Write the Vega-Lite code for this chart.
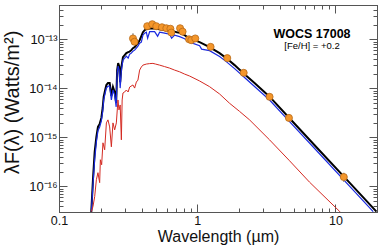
{
  "$schema": "https://vega.github.io/schema/vega-lite/v6.json",
  "width": 318,
  "height": 207,
  "autosize": {"type": "none"},
  "padding": {"left": 59, "top": 5, "right": 4, "bottom": 35},
  "background": "white",
  "config": {
    "view": {"stroke": "#555", "strokeWidth": 1},
    "axis": {"grid": false, "domainColor": "#555", "tickColor": "#555", "labelFont": "Liberation Sans", "titleFont": "Liberation Sans", "labelColor": "#111", "titleColor": "#111", "titleFontWeight": "normal"}
  },
  "datasets": {
    "spectra": [
      {"s":"k","wl":0.171,"f":2.8e-17},{"s":"k","wl":0.1761,"f":1.37e-16},{"s":"k","wl":0.1812,"f":5.07e-16},{"s":"k","wl":0.1864,"f":1.02e-15},{"s":"k","wl":0.1914,"f":1.63e-15},{"s":"k","wl":0.1969,"f":1.88e-15},{"s":"k","wl":0.2025,"f":2.49e-15},{"s":"k","wl":0.207,"f":3.97e-15},{"s":"k","wl":0.2105,"f":6.65e-15},{"s":"k","wl":0.2158,"f":9.23e-15},{"s":"k","wl":0.2202,"f":1.17e-14},{"s":"k","wl":0.2261,"f":1.28e-14},{"s":"k","wl":0.2326,"f":1.28e-14},{"s":"k","wl":0.2393,"f":6.97e-15},{"s":"k","wl":0.2458,"f":1.06e-14},{"s":"k","wl":0.2528,"f":8.41e-15},{"s":"k","wl":0.2592,"f":5.02e-15},{"s":"k","wl":0.2635,"f":2.35e-14},{"s":"k","wl":0.268,"f":3.27e-14},{"s":"k","wl":0.2725,"f":2.84e-14},{"s":"k","wl":0.2771,"f":1.34e-14},{"s":"k","wl":0.2827,"f":2.71e-14},{"s":"k","wl":0.2903,"f":4.33e-14},{"s":"k","wl":0.2986,"f":4.75e-14},{"s":"k","wl":0.3071,"f":5.21e-14},{"s":"k","wl":0.3165,"f":5.47e-14},{"s":"k","wl":0.3245,"f":5.6e-14},{"s":"k","wl":0.3338,"f":6.0e-14},{"s":"k","wl":0.3428,"f":6.59e-14},{"s":"k","wl":0.3526,"f":6.91e-14},{"s":"k","wl":0.3628,"f":7.58e-14},{"s":"k","wl":0.3725,"f":8.32e-14},{"s":"k","wl":0.3832,"f":9.58e-14},{"s":"k","wl":0.3942,"f":1.156e-13},{"s":"k","wl":0.4049,"f":1.394e-13},{"s":"k","wl":0.4165,"f":1.531e-13},{"s":"k","wl":0.4285,"f":1.603e-13},{"s":"k","wl":0.4526,"f":1.656e-13},{"s":"k","wl":0.492,"f":1.656e-13},{"s":"k","wl":0.5346,"f":1.603e-13},{"s":"k","wl":0.581,"f":1.545e-13},{"s":"k","wl":0.6317,"f":1.48e-13},{"s":"k","wl":0.6865,"f":1.426e-13},{"s":"k","wl":0.7459,"f":1.349e-13},{"s":"k","wl":0.8108,"f":1.211e-13},{"s":"k","wl":0.8812,"f":1.028e-13},{"s":"k","wl":1.041,"f":8.73e-14},{"s":"k","wl":1.229,"f":6.91e-14},{"s":"k","wl":1.452,"f":5.21e-14},{"s":"k","wl":1.623,"f":4.13e-14},{"s":"k","wl":1.864,"f":2.97e-14},{"s":"k","wl":2.14,"f":2.07e-14},{"s":"k","wl":2.6,"f":1.28e-14},{"s":"k","wl":3.339,"f":6.75e-15},{"s":"k","wl":4.657,"f":2.45e-15},{"s":"k","wl":7.674,"f":5.39e-16},{"s":"k","wl":12.65,"f":1.19e-16},{"s":"k","wl":19.83,"f":3.06e-17},
      {"s":"b","wl":0.1715,"f":3.06e-17},{"s":"b","wl":0.1761,"f":1.08e-16},{"s":"b","wl":0.1812,"f":3.49e-16},{"s":"b","wl":0.1864,"f":8.09e-16},{"s":"b","wl":0.1914,"f":1.36e-15},{"s":"b","wl":0.1969,"f":1.63e-15},{"s":"b","wl":0.2025,"f":2.16e-15},{"s":"b","wl":0.207,"f":3.3e-15},{"s":"b","wl":0.2105,"f":5.78e-15},{"s":"b","wl":0.2158,"f":8.02e-15},{"s":"b","wl":0.2202,"f":1.01e-14},{"s":"b","wl":0.2261,"f":1.11e-14},{"s":"b","wl":0.2326,"f":1.11e-14},{"s":"b","wl":0.2393,"f":5.78e-15},{"s":"b","wl":0.2458,"f":9.23e-15},{"s":"b","wl":0.2528,"f":7.31e-15},{"s":"b","wl":0.2592,"f":4.17e-15},{"s":"b","wl":0.2635,"f":2.05e-14},{"s":"b","wl":0.268,"f":2.84e-14},{"s":"b","wl":0.2725,"f":2.35e-14},{"s":"b","wl":0.2771,"f":1.01e-14},{"s":"b","wl":0.2827,"f":2.35e-14},{"s":"b","wl":0.2903,"f":3.76e-14},{"s":"b","wl":0.2986,"f":4.13e-14},{"s":"b","wl":0.3071,"f":4.53e-14},{"s":"b","wl":0.3165,"f":4.13e-14},{"s":"b","wl":0.3245,"f":4.98e-14},{"s":"b","wl":0.3338,"f":5.21e-14},{"s":"b","wl":0.3428,"f":5.73e-14},{"s":"b","wl":0.3526,"f":6.0e-14},{"s":"b","wl":0.3628,"f":6.59e-14},{"s":"b","wl":0.3725,"f":7.24e-14},{"s":"b","wl":0.3832,"f":8.32e-14},{"s":"b","wl":0.3942,"f":8.73e-14},{"s":"b","wl":0.4049,"f":1.211e-13},{"s":"b","wl":0.4165,"f":1.33e-13},{"s":"b","wl":0.4285,"f":1.394e-13},{"s":"b","wl":0.4379,"f":1.052e-13},{"s":"b","wl":0.4526,"f":1.426e-13},{"s":"b","wl":0.492,"f":1.426e-13},{"s":"b","wl":0.5172,"f":1.156e-13},{"s":"b","wl":0.5346,"f":1.394e-13},{"s":"b","wl":0.581,"f":1.33e-13},{"s":"b","wl":0.6317,"f":1.269e-13},{"s":"b","wl":0.6531,"f":1.052e-13},{"s":"b","wl":0.6865,"f":1.211e-13},{"s":"b","wl":0.7459,"f":1.129e-13},{"s":"b","wl":0.8108,"f":1.028e-13},{"s":"b","wl":0.8812,"f":8.73e-14},{"s":"b","wl":1.041,"f":7.41e-14},{"s":"b","wl":1.076,"f":6.29e-14},{"s":"b","wl":1.229,"f":5.86e-14},{"s":"b","wl":1.452,"f":4.43e-14},{"s":"b","wl":1.623,"f":3.5e-14},{"s":"b","wl":1.864,"f":2.52e-14},{"s":"b","wl":2.14,"f":1.78e-14},{"s":"b","wl":2.6,"f":1.09e-14},{"s":"b","wl":3.339,"f":5.78e-15},{"s":"b","wl":4.657,"f":2.09e-15},{"s":"b","wl":7.674,"f":4.62e-16},{"s":"b","wl":12.65,"f":1.01e-16},{"s":"b","wl":18.77,"f":3.06e-17},
      {"s":"r","wl":0.1715,"f":3.06e-17},{"s":"r","wl":0.1761,"f":3.87e-17},{"s":"r","wl":0.1812,"f":6.17e-17},{"s":"r","wl":0.1864,"f":1.37e-16},{"s":"r","wl":0.1914,"f":1.9e-16},{"s":"r","wl":0.1969,"f":1.19e-16},{"s":"r","wl":0.1992,"f":3.49e-16},{"s":"r","wl":0.2035,"f":2.76e-16},{"s":"r","wl":0.208,"f":7.73e-16},{"s":"r","wl":0.214,"f":5.57e-16},{"s":"r","wl":0.2202,"f":1.97e-15},{"s":"r","wl":0.2261,"f":2.27e-15},{"s":"r","wl":0.2326,"f":1.63e-15},{"s":"r","wl":0.2393,"f":6.41e-16},{"s":"r","wl":0.2458,"f":1.97e-15},{"s":"r","wl":0.2528,"f":1.42e-15},{"s":"r","wl":0.26,"f":1.97e-15},{"s":"r","wl":0.2671,"f":5.78e-15},{"s":"r","wl":0.2716,"f":3.62e-15},{"s":"r","wl":0.2771,"f":4.57e-15},{"s":"r","wl":0.2827,"f":8.89e-16},{"s":"r","wl":0.2864,"f":5.78e-15},{"s":"r","wl":0.2903,"f":8.02e-15},{"s":"r","wl":0.2986,"f":8.41e-15},{"s":"r","wl":0.3071,"f":9.23e-15},{"s":"r","wl":0.3165,"f":8.41e-15},{"s":"r","wl":0.3245,"f":1.06e-14},{"s":"r","wl":0.3428,"f":1.17e-14},{"s":"r","wl":0.3526,"f":1.01e-14},{"s":"r","wl":0.3628,"f":1.34e-14},{"s":"r","wl":0.3725,"f":1.47e-14},{"s":"r","wl":0.3832,"f":2.35e-14},{"s":"r","wl":0.3942,"f":2.71e-14},{"s":"r","wl":0.4049,"f":2.97e-14},{"s":"r","wl":0.4285,"f":3.12e-14},{"s":"r","wl":0.4526,"f":3.19e-14},{"s":"r","wl":0.4783,"f":3.22e-14},{"s":"r","wl":0.5002,"f":3.12e-14},{"s":"r","wl":0.5346,"f":2.97e-14},{"s":"r","wl":0.581,"f":2.77e-14},{"s":"r","wl":0.6317,"f":2.58e-14},{"s":"r","wl":0.6865,"f":2.35e-14},{"s":"r","wl":0.7459,"f":2.17e-14},{"s":"r","wl":0.8108,"f":1.95e-14},{"s":"r","wl":0.8812,"f":1.78e-14},{"s":"r","wl":1.041,"f":1.41e-14},{"s":"r","wl":1.229,"f":1.08e-14},{"s":"r","wl":1.452,"f":7.66e-15},{"s":"r","wl":1.715,"f":4.95e-15},{"s":"r","wl":2.026,"f":3.38e-15},{"s":"r","wl":2.393,"f":2.27e-15},{"s":"r","wl":3.339,"f":8.89e-16},{"s":"r","wl":4.657,"f":3.33e-16},{"s":"r","wl":6.497,"f":1.22e-16},{"s":"r","wl":10.71,"f":3.1e-17},{"s":"r","wl":11.64,"f":2.42e-17}
    ],
    "phot": [
      {"wl":0.343,"f":1.04e-13,"lo":7.6e-14,"hi":1.33e-13},
      {"wl":0.352,"f":8.9e-14},
      {"wl":0.435,"f":1.85e-13},
      {"wl":0.473,"f":2.03e-13},
      {"wl":0.506,"f":1.85e-13},
      {"wl":0.556,"f":1.76e-13},
      {"wl":0.598,"f":1.68e-13},
      {"wl":0.64,"f":1.64e-13},
      {"wl":0.65,"f":1.37e-13},
      {"wl":0.752,"f":1.68e-13},
      {"wl":0.784,"f":1.43e-13},
      {"wl":0.873,"f":1.0e-13},
      {"wl":0.906,"f":9.6e-14},
      {"wl":0.968,"f":1.04e-13},
      {"wl":1.25,"f":7.0e-14},
      {"wl":1.65,"f":4.13e-14},
      {"wl":2.17,"f":2.07e-14},
      {"wl":3.34,"f":6.7e-15},
      {"wl":4.61,"f":2.49e-15},
      {"wl":11.5,"f":1.55e-16,"lo":1.23e-16,"hi":1.9e-16}
    ],
    "notes": [
      {"wl":6.77,"f":1.086e-13,"t":"WOCS 17008","k":"name"},
      {"wl":6.77,"f":6.21e-14,"t":"[Fe/H] = +0.2","k":"feh"}
    ]
  },
  "resolve": {"axis": {"x": "independent", "y": "independent"}},
  "layer": [
    {
      "data": {"name": "spectra"},
      "transform": [{"filter": "datum.s == 'k'"}],
      "mark": {"type": "line", "color": "#000000", "strokeWidth": 2, "clip": true},
      "encoding": {
        "x": {"field": "wl", "type": "quantitative", "scale": {"type": "log", "domain": [0.1, 20], "nice": false},
          "axis": {"orient": "bottom",
            "values": [0.1,0.2,0.3,0.4,0.5,0.6,0.7,0.8,0.9,1,2,3,4,5,6,7,8,9,10,20],
            "labelExpr": "datum.value == 0.1 ? '0.1' : datum.value == 1 ? '1' : datum.value == 10 ? '10' : ''",
            "labelOverlap": false, "labelFlush": false, "labelBound": false,
            "labelFontSize": 12.5, "labelPadding": 10,
            "tickSize": {"condition": {"test": "datum.value == 0.1 || datum.value == 1 || datum.value == 10", "value": -8}, "value": -4},
            "title": "Wavelength (µm)", "titleFontSize": 16, "titleY": 29, "titleBaseline": "alphabetic"}},
        "y": {"field": "f", "type": "quantitative", "scale": {"type": "log", "domain": [3e-17, 5e-13], "nice": false},
          "axis": {"orient": "left",
            "values": [3e-17,4e-17,5e-17,6e-17,7e-17,8e-17,9e-17,1e-16,2e-16,3e-16,4e-16,5e-16,6e-16,7e-16,8e-16,9e-16,1e-15,2e-15,3e-15,4e-15,5e-15,6e-15,7e-15,8e-15,9e-15,1e-14,2e-14,3e-14,4e-14,5e-14,6e-14,7e-14,8e-14,9e-14,1e-13,2e-13,3e-13,4e-13,5e-13],
            "labelExpr": "datum.value == 1e-13 ? '10⁻¹³' : datum.value == 1e-14 ? '10⁻¹⁴' : datum.value == 1e-15 ? '10⁻¹⁵' : datum.value == 1e-16 ? '10⁻¹⁶' : ''",
            "labelOverlap": false, "labelFlush": false, "labelBound": false,
            "labelFontSize": 13, "labelPadding": 10,
            "tickSize": {"condition": {"test": "datum.value == 1e-13 || datum.value == 1e-14 || datum.value == 1e-15 || datum.value == 1e-16", "value": -8}, "value": -4},
            "title": "λF(λ) (Watts/m²)", "titleFontSize": 20, "titleAngle": -90, "titleX": -41, "titleY": 97, "titleBaseline": "alphabetic", "titleAlign": "center"}}
      }
    },
    {
      "data": {"name": "spectra"},
      "transform": [{"filter": "datum.s == 'b'"}],
      "mark": {"type": "line", "color": "#1a2ae0", "strokeWidth": 1.2, "clip": true},
      "encoding": {
        "x": {"field": "wl", "type": "quantitative", "scale": {"type": "log", "domain": [0.1, 20], "nice": false},
          "axis": {"orient": "top", "labels": false, "title": null,
            "values": [0.1,0.2,0.3,0.4,0.5,0.6,0.7,0.8,0.9,1,2,3,4,5,6,7,8,9,10,20],
            "tickSize": {"condition": {"test": "datum.value == 0.1 || datum.value == 1 || datum.value == 10", "value": -8}, "value": -4}}},
        "y": {"field": "f", "type": "quantitative", "scale": {"type": "log", "domain": [3e-17, 5e-13], "nice": false},
          "axis": {"orient": "right", "labels": false, "title": null,
            "values": [3e-17,4e-17,5e-17,6e-17,7e-17,8e-17,9e-17,1e-16,2e-16,3e-16,4e-16,5e-16,6e-16,7e-16,8e-16,9e-16,1e-15,2e-15,3e-15,4e-15,5e-15,6e-15,7e-15,8e-15,9e-15,1e-14,2e-14,3e-14,4e-14,5e-14,6e-14,7e-14,8e-14,9e-14,1e-13,2e-13,3e-13,4e-13,5e-13],
            "tickSize": {"condition": {"test": "datum.value == 1e-13 || datum.value == 1e-14 || datum.value == 1e-15 || datum.value == 1e-16", "value": -8}, "value": -4}}}
      }
    },
    {
      "data": {"name": "spectra"},
      "transform": [{"filter": "datum.s == 'r'"}],
      "mark": {"type": "line", "color": "#d42a22", "strokeWidth": 1, "clip": true},
      "encoding": {
        "x": {"field": "wl", "type": "quantitative", "axis": null},
        "y": {"field": "f", "type": "quantitative", "axis": null}
      }
    },
    {
      "data": {"name": "phot"},
      "transform": [{"filter": "datum.lo != null"}],
      "mark": {"type": "rule", "color": "#9a9a9a", "strokeWidth": 1.5},
      "encoding": {
        "x": {"field": "wl", "type": "quantitative", "axis": null},
        "y": {"field": "lo", "type": "quantitative", "axis": null},
        "y2": {"field": "hi"}
      }
    },
    {
      "data": {"name": "phot"},
      "mark": {"type": "point", "shape": "circle", "filled": true, "size": 50, "color": "#f4962a", "stroke": "#b86a18", "strokeWidth": 0.8, "opacity": 1},
      "encoding": {
        "x": {"field": "wl", "type": "quantitative", "axis": null},
        "y": {"field": "f", "type": "quantitative", "axis": null}
      }
    },
    {
      "data": {"name": "notes"},
      "transform": [{"filter": "datum.k == 'name'"}],
      "mark": {"type": "text", "font": "Liberation Sans", "fontSize": 12.5, "fontWeight": "bold", "align": "center", "baseline": "alphabetic", "color": "#000"},
      "encoding": {
        "x": {"field": "wl", "type": "quantitative", "axis": null},
        "y": {"field": "f", "type": "quantitative", "axis": null},
        "text": {"field": "t"}
      }
    },
    {
      "data": {"name": "notes"},
      "transform": [{"filter": "datum.k == 'feh'"}],
      "mark": {"type": "text", "font": "Liberation Sans", "fontSize": 9.5, "align": "center", "baseline": "alphabetic", "color": "#000"},
      "encoding": {
        "x": {"field": "wl", "type": "quantitative", "axis": null},
        "y": {"field": "f", "type": "quantitative", "axis": null},
        "text": {"field": "t"}
      }
    }
  ]
}
